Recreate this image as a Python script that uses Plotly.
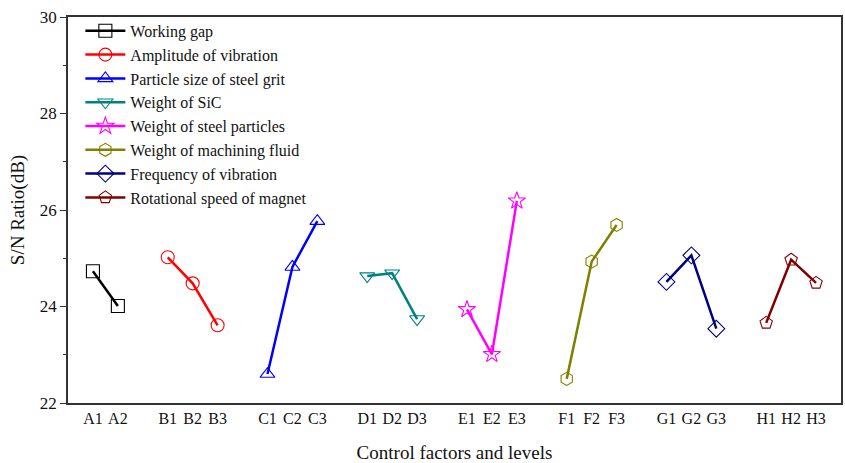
import plotly.graph_objects as go

# Mean S/N ratio for each level of each control factor
factors = [
    "Working gap",
    "Amplitude of vibration",
    "Particle size of steel grit",
    "Weight of SiC",
    "Weight of steel particles",
    "Weight of machining fluid",
    "Frequency of vibration",
    "Rotational speed of magnet",
]
levels = [
    ["A1", "A2"],
    ["B1", "B2", "B3"],
    ["C1", "C2", "C3"],
    ["D1", "D2", "D3"],
    ["E1", "E2", "E3"],
    ["F1", "F2", "F3"],
    ["G1", "G2", "G3"],
    ["H1", "H2", "H3"],
]
sn_ratio = [
    [24.73, 24.01],
    [25.02, 24.48, 23.61],
    [22.60, 24.82, 25.77],
    [24.63, 24.69, 23.74],
    [23.94, 23.01, 26.19],
    [22.50, 24.93, 25.69],
    [24.51, 25.06, 23.54],
    [23.66, 24.97, 24.49],
]
colors = ["#000000", "#FF0000", "#0000FF", "#008080",
          "#FF00FF", "#808000", "#000080", "#800000"]
symbols = ["square-open", "circle-open", "triangle-up-open", "triangle-down-open",
           "star-open", "hexagon-open", "diamond-open", "pentagon-open"]

fig = go.Figure()

# Each factor's levels sit on consecutive slots, with one empty slot between factors
tickvals, ticktext = [], []
slot = 0
for name, lv, vals, col, sym in zip(factors, levels, sn_ratio, colors, symbols):
    xs = list(range(slot, slot + len(lv)))
    tickvals += xs
    ticktext += lv
    fig.add_trace(go.Scatter(
        x=xs, y=vals, name=name, mode="lines+markers",
        line=dict(color=col, width=2.5),
        marker=dict(symbol=sym, size=13, color=col, line=dict(width=1.1, color=col)),
    ))
    slot += len(lv) + 1

font_family = "Liberation Serif, Times New Roman, serif"

fig.update_layout(
    width=845, height=463,
    margin=dict(l=68, r=2, t=17, b=60),
    plot_bgcolor="white", paper_bgcolor="white",
    font=dict(family=font_family, size=16, color="#111111"),
    legend=dict(x=0.016, y=1.008, xanchor="left", yanchor="top",
                bgcolor="rgba(255,255,255,0)", font=dict(size=16),
                tracegroupgap=0, itemwidth=40),
    showlegend=True,
)
fig.update_xaxes(
    range=[-1, 30], tickvals=tickvals, ticktext=ticktext,
    showgrid=False, zeroline=False, showline=True, mirror=True,
    linecolor="#333333", linewidth=1.5, ticks="",
    title=dict(text="Control factors and levels", font=dict(size=19), standoff=20),
    tickfont=dict(size=16),
)
fig.update_yaxes(
    range=[22, 30], tickvals=[22, 24, 26, 28, 30],
    showgrid=False, zeroline=False, showline=True, mirror=True,
    linecolor="#333333", linewidth=1.5, ticks="outside", ticklen=6, tickwidth=1.2,
    tickcolor="#333333",
    minor=dict(tickvals=[23, 25, 27, 29], ticks="outside", ticklen=3, tickcolor="#333333"),
    title=dict(text="S/N Ratio(dB)", font=dict(size=19), standoff=10),
    tickfont=dict(size=17),
)

fig.write_html("out.html")
